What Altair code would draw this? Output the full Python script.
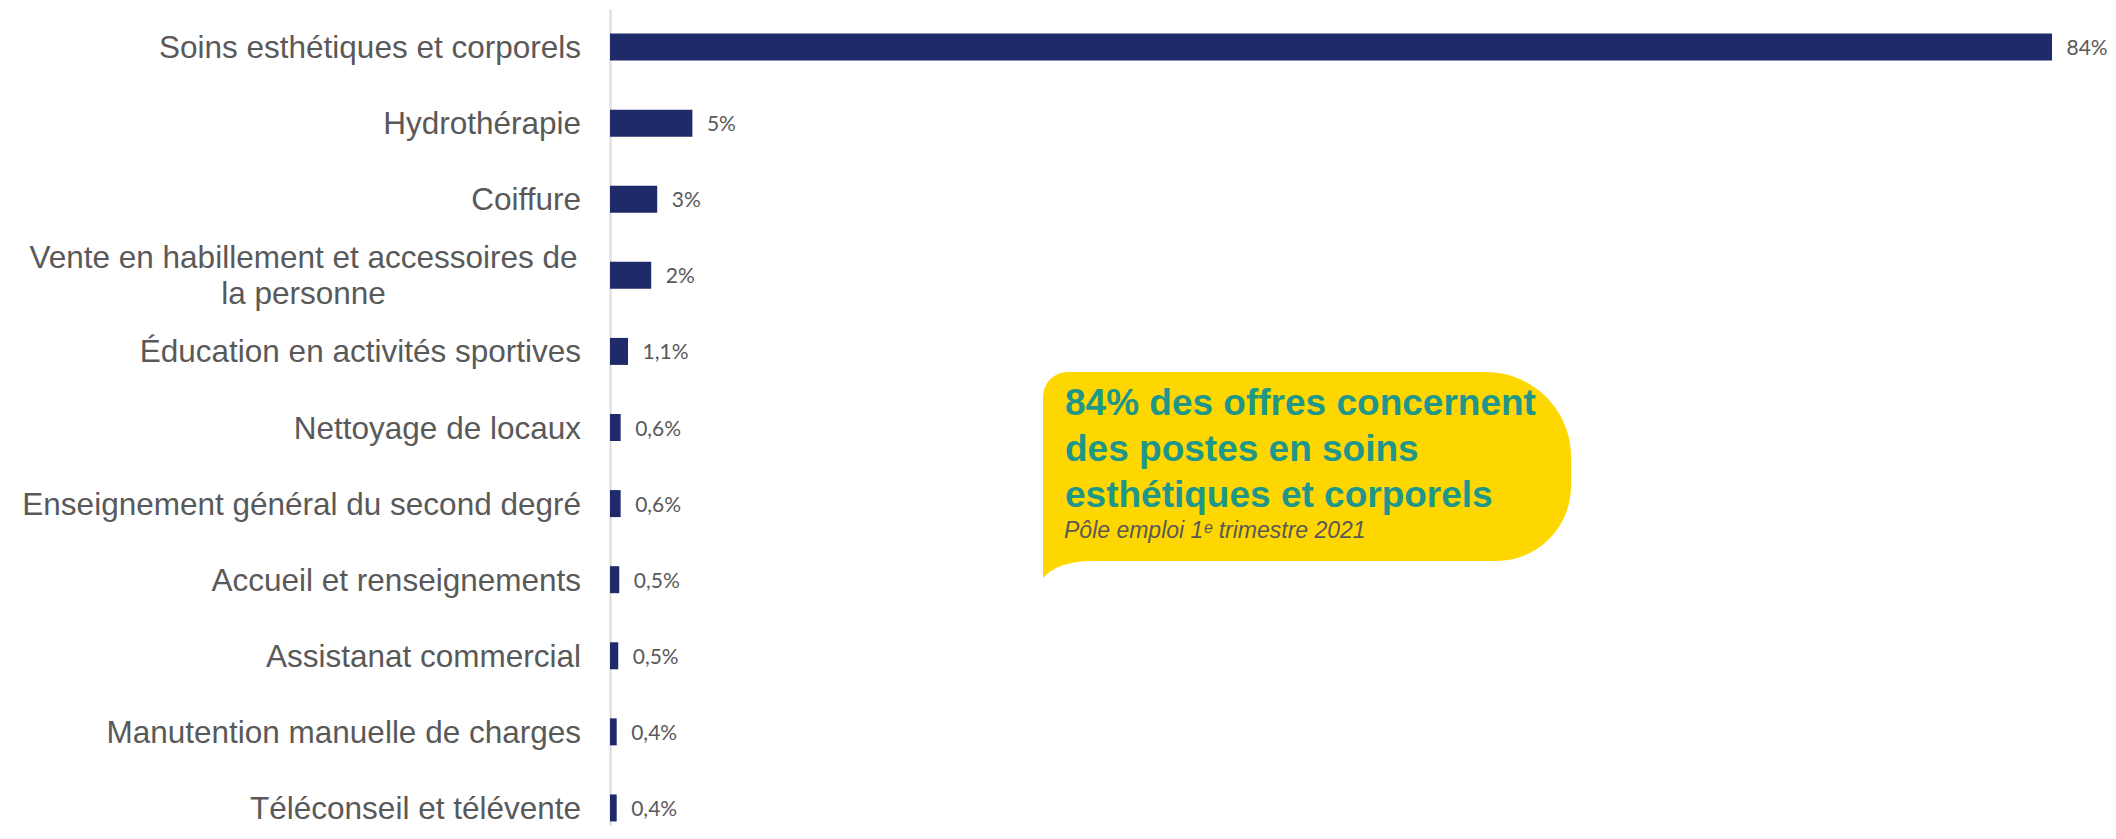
import altair as alt
import pandas as pd

# ---- data ----
categories = [
    "Soins esthétiques et corporels",
    "Hydrothérapie",
    "Coiffure",
    "Vente en habillement et accessoires de la personne",
    "Éducation en activités sportives",
    "Nettoyage de locaux",
    "Enseignement général du second degré",
    "Accueil et renseignements",
    "Assistanat commercial",
    "Manutention manuelle de charges",
    "Téléconseil et télévente",
]
display_labels = [
    "Soins esthétiques et corporels",
    "Hydrothérapie",
    "Coiffure",
    "Vente en habillement et accessoires de\nla personne",
    "Éducation en activités sportives",
    "Nettoyage de locaux",
    "Enseignement général du second degré",
    "Accueil et renseignements",
    "Assistanat commercial",
    "Manutention manuelle de charges",
    "Téléconseil et télévente",
]
values = [84, 4.8, 2.75, 2.4, 1.05, 0.62, 0.62, 0.54, 0.48, 0.39, 0.39]
value_labels = ["84%", "5%", "3%", "2%", "1,1%", "0,6%", "0,6%", "0,5%", "0,5%", "0,4%", "0,4%"]

callout_lines = [
    "84% des offres concernent",
    "des postes en soins",
    "esthétiques et corporels",
]
callout_source = "Pôle emploi 1ᵉ trimestre 2021"

df = pd.DataFrame({
    "cat": categories,
    "label": display_labels,
    "value": values,
    "vlabel": value_labels,
})
df["wrapped"] = df["label"].str.contains("\n")

NAVY = "#1F2A6B"
GREY = "#595959"
YELLOW = "#FFD700"
TEAL = "#1E9689"
SANS = "Liberation Sans, Arial, sans-serif"

x_enc = alt.X("value:Q", axis=None,
              scale=alt.Scale(domain=[0, 84], nice=False, zero=True))
y_enc = alt.Y("cat:N", sort=None,
              scale=alt.Scale(range=[0, 837], paddingInner=0, paddingOuter=0),
              axis=alt.Axis(labels=False, ticks=False, grid=False, title=None,
                            domainColor="#D9D9D9", domainWidth=2))

base = alt.Chart(df)

bars = base.mark_bar(color=NAVY, size=27).encode(x=x_enc, y=y_enc)

vals = base.mark_text(align="left", baseline="middle", dx=14.5, dy=2,
                      font="Lato, Open Sans, sans-serif", fontSize=21,
                      color=GREY).encode(x=x_enc, y=alt.Y("cat:N", sort=None),
                                         text="vlabel:N")

cat_single = base.transform_filter("!datum.wrapped").mark_text(
    align="right", baseline="middle", dy=2, font=SANS, fontSize=31.5, color=GREY
).encode(x=alt.value(-29), y=alt.Y("cat:N", sort=None), text="label:N")

cat_wrapped = base.transform_filter("datum.wrapped").mark_text(
    align="center", baseline="middle", dy=-16, font=SANS, fontSize=31.5,
    color=GREY, lineBreak="\n", lineHeight=36
).encode(x=alt.value(-306.5), y=alt.Y("cat:N", sort=None), text="label:N")

one = alt.Data(values=[{"k": 1}])

bubble = alt.Chart(one).mark_rect(
    color=YELLOW, cornerRadiusTopLeft=25, cornerRadiusTopRight=85,
    cornerRadiusBottomRight=75, cornerRadiusBottomLeft=0
).encode(x=alt.value(433), x2=alt.value(961), y=alt.value(363), y2=alt.value(552))

tail = alt.Chart(one).mark_point(
    shape="M -1,0 L -1,0.92 Q -0.4,0.24 1,0.24 L 1,0 Z",
    filled=True, color=YELLOW, opacity=1, strokeWidth=0, size=2500
).encode(x=alt.value(458), y=alt.value(546))

callout_text = alt.Chart(one).mark_text(
    align="left", baseline="alphabetic", font=SANS, fontSize=37,
    fontWeight="bold", color=TEAL, lineHeight=46, text=callout_lines
).encode(x=alt.value(455), y=alt.value(406))

source_text = alt.Chart(one).mark_text(
    align="left", baseline="alphabetic", font=SANS, fontSize=23,
    fontStyle="italic", color=GREY, text=callout_source
).encode(x=alt.value(454), y=alt.value(529))

chart = alt.layer(
    bars, vals, cat_single, cat_wrapped, bubble, tail, callout_text, source_text
).properties(
    width=1442, height=817,
    padding={"left": 602, "top": 1, "right": 56, "bottom": 0},
    autosize=alt.AutoSizeParams(type="none"),
    background="white",
).configure_view(strokeWidth=0)

chart.save("out.html", embed_options={"renderer": "svg", "actions": False})
